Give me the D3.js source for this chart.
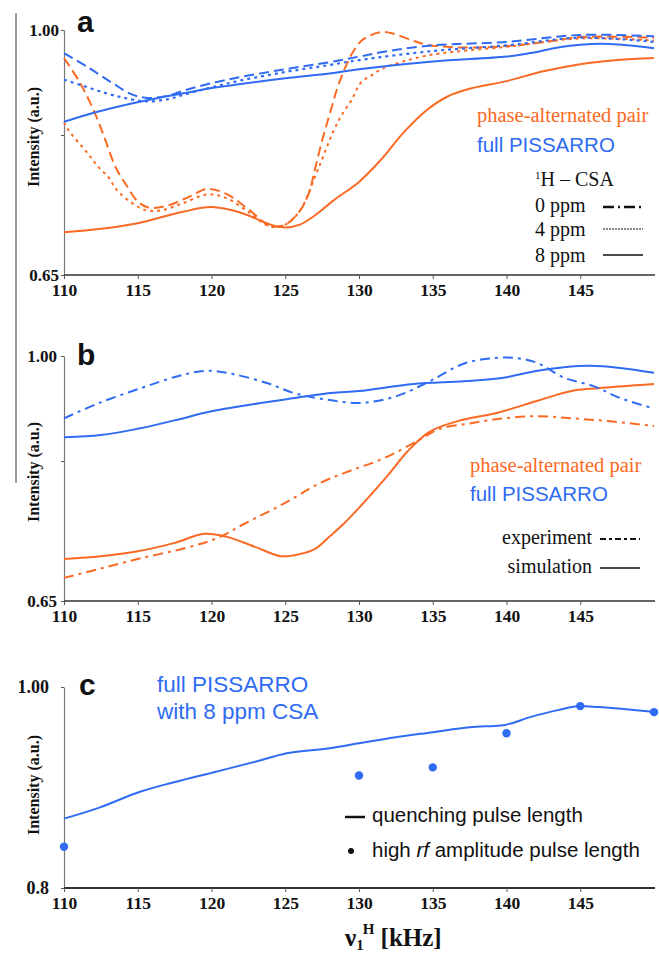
<!DOCTYPE html>
<html>
<head>
<meta charset="utf-8">
<script src="https://cdn.jsdelivr.net/npm/d3@7"></script>
<style>
  html, body { margin: 0; padding: 0; background: #fff; }
  svg { display: block; }
</style>
</head>
<body>
<svg id="fig" width="659" height="954"></svg>
<script>
// ---- shared axis values ----
const xTicks = [110, 115, 120, 125, 130, 135, 140, 145];
const xDomain = [110, 150];
const yTicksAB = [0.65, 0.85, 1.00];
const yLabelsAB = { 0.65: "0.65", 1.00: "1.00" };
const yTicksC = [0.8, 1.00];
const yLabelsC = { 0.8: "0.8", 1.00: "1.00" };

// ---- panel a: 1H CSA dependence ----
const aPissarro0 = [[110,0.967],[111.6,0.947],[113.3,0.924],[114.6,0.908],[115.7,0.903],[117,0.906],[118.2,0.914],[120,0.924],[122,0.933],[125,0.944],[128,0.954],[130,0.962],[132,0.970],[135,0.978],[140,0.983],[145,0.993],[150,0.991]];
const aPissarro4 = [[110,0.929],[111.2,0.921],[112.8,0.910],[114.1,0.903],[115.5,0.898],[117,0.901],[118.2,0.908],[120,0.918],[122,0.928],[125,0.940],[128,0.950],[130,0.957],[135,0.970],[140,0.978],[145,0.989],[150,0.983]];
const aPissarro8 = [[110,0.869],[112.8,0.886],[115.7,0.900],[118.2,0.910],[120,0.917],[125,0.931],[128,0.938],[130,0.944],[135,0.955],[140,0.962],[141.6,0.967],[143.5,0.975],[145,0.979],[147,0.980],[150,0.974]];
const aPair0 = [[110,0.960],[111.1,0.924],[112.1,0.881],[112.8,0.843],[113.5,0.804],[114.3,0.776],[115,0.755],[115.8,0.746],[117,0.749],[118.5,0.762],[119.7,0.773],[121,0.766],[122.5,0.744],[124,0.720],[125,0.722],[126,0.742],[126.6,0.767],[127,0.800],[127.6,0.850],[128.1,0.886],[128.5,0.915],[129,0.943],[129.6,0.969],[130.3,0.987],[131.5,0.997],[132.3,0.995],[133.5,0.986],[134.6,0.979],[137,0.975],[140,0.977],[143,0.984],[145,0.990],[150,0.989]];
const aPair4 = [[110,0.868],[110.3,0.857],[111.6,0.824],[112.3,0.805],[113,0.790],[113.6,0.771],[114.6,0.753],[115.5,0.743],[116.5,0.742],[118,0.752],[119.7,0.765],[121,0.760],[122.5,0.740],[124,0.719],[125,0.722],[126,0.742],[127.2,0.800],[128.3,0.857],[128.9,0.881],[129.5,0.900],[130.1,0.924],[130.9,0.936],[131.7,0.946],[133,0.955],[135,0.965],[140,0.976],[145,0.988],[150,0.985]];
const aPair8 = [[110,0.711],[112.5,0.716],[115,0.724],[118,0.740],[120,0.747],[122,0.739],[124,0.722],[125,0.718],[126,0.722],[127,0.735],[128.3,0.757],[130,0.783],[131.5,0.815],[133,0.853],[134.5,0.884],[136,0.905],[137.5,0.916],[140,0.927],[142.5,0.941],[145,0.951],[147.5,0.957],[150,0.960]];

// ---- panel b: experiment vs simulation ----
const bPissarroExp = [[110,0.911],[112.4,0.933],[115.2,0.954],[117.7,0.971],[119.7,0.979],[121.5,0.974],[123.8,0.961],[125.6,0.947],[127.4,0.939],[130.1,0.933],[132.6,0.943],[134.8,0.964],[137.1,0.989],[139.1,0.997],[140.7,0.997],[142.1,0.990],[143.9,0.969],[145.9,0.957],[147.7,0.940],[150,0.925]];
const bPissarroSim = [[110,0.884],[112.5,0.887],[115,0.896],[117.5,0.908],[120,0.921],[122.5,0.930],[125,0.938],[128.1,0.947],[130,0.950],[133.7,0.960],[137.1,0.964],[139.8,0.969],[142.1,0.979],[143.9,0.984],[145.7,0.986],[147.7,0.983],[150,0.976]];
const bPairExp = [[110,0.683],[112.4,0.696],[115.2,0.711],[118.3,0.726],[120.4,0.740],[122.2,0.760],[124.9,0.789],[127.4,0.819],[129.4,0.836],[131.7,0.854],[134,0.879],[135.5,0.896],[137.6,0.904],[139.8,0.911],[142.1,0.914],[144.4,0.911],[146.9,0.907],[150,0.900]];
const bPairSim = [[110,0.710],[112.5,0.714],[115,0.721],[117.5,0.733],[119.5,0.746],[121,0.742],[123,0.727],[124.7,0.714],[126,0.717],[127,0.724],[128,0.742],[129,0.761],[130,0.783],[131.9,0.828],[133.3,0.864],[134.8,0.892],[136.7,0.907],[139.4,0.919],[142.1,0.936],[144.4,0.950],[146.2,0.954],[150,0.960]];

// ---- panel c: quenching vs high-rf pulse length ----
const cQuenchX = [110,112.4,115.2,117.4,120.1,122.8,125.1,128,130,132.5,135,137.5,139.8,141.6,143.5,145,146.2,150];
const cQuenchY = [0.869,0.880,0.896,0.905,0.915,0.925,0.934,0.939,0.944,0.950,0.955,0.960,0.962,0.970,0.977,0.981,0.980,0.975];
const cHighRfX = [110,130,135,140,145,150];
const cHighRfY = [0.841,0.912,0.920,0.954,0.981,0.975];

// ---- styling ----
const ORANGE = "#fb6a24";
const BLUE = "#2f6bf3";
const SERIF = "'Liberation Serif', 'Times New Roman', serif";
const SANS = "'Liberation Sans', Arial, sans-serif";

const svg = d3.select("#fig");
const X0 = 64, X1 = 654;

// outer frame line on the left
svg.append("line")
  .attr("x1", 16).attr("x2", 16).attr("y1", 13).attr("y2", 483)
  .attr("stroke", "#333").attr("stroke-width", 1);

function makePanel(opts) {
  const x = d3.scaleLinear().domain(xDomain).range([X0, X1]);
  const y = d3.scaleLinear().domain(opts.yDomain).range([opts.yBottom, opts.yTop]);
  const g = svg.append("g");

  // y axis
  const ya = g.append("g").attr("transform", `translate(${X0},0)`)
    .call(d3.axisLeft(y).tickValues(opts.yTicks).tickSize(3).tickSizeOuter(0)
      .tickPadding(opts.yPad)
      .tickFormat(d => opts.yLabels[d] || ""));
  ya.select(".domain").attr("stroke", "#777").attr("stroke-width", 1.2);
  ya.selectAll(".tick line").attr("stroke", "#555");
  ya.selectAll(".tick text")
    .attr("font-family", SERIF).attr("font-weight", "bold")
    .attr("font-size", opts.yFont).attr("fill", "#111");

  // x axis
  const xa = g.append("g").attr("transform", `translate(0,${opts.yBottom})`)
    .call(d3.axisBottom(x).tickValues(xTicks).tickSize(4).tickSizeOuter(0).tickPadding(5)
      .tickFormat(d3.format("d")));
  xa.select(".domain").attr("stroke", "#333").attr("stroke-width", opts.xStroke)
    .attr("d", `M${X0},0H${X1 + 1}`);
  xa.selectAll(".tick line").attr("stroke", "#555");
  xa.selectAll(".tick text")
    .attr("font-family", SERIF).attr("font-weight", "bold")
    .attr("font-size", 17.5).attr("fill", "#111");

  // y title
  g.append("text")
    .attr("transform", `translate(${opts.titleX},${opts.titleY}) rotate(-90)`)
    .attr("text-anchor", "middle").attr("dominant-baseline", "middle")
    .attr("font-family", SERIF).attr("font-weight", "bold").attr("font-size", 16)
    .attr("fill", "#111").text("Intensity (a.u.)");

  // panel letter
  g.append("text").attr("x", opts.letterX).attr("y", opts.letterY)
    .attr("font-family", SANS).attr("font-weight", "bold").attr("font-size", 30)
    .attr("fill", "#111").text(opts.letter);

  return { g, x, y };
}

function drawCurve(p, pts, color, width, dash, curve) {
  const line = d3.line()
    .x(d => p.x(d[0])).y(d => p.y(d[1]))
    .curve(curve || d3.curveCatmullRom.alpha(0.5));
  p.g.append("path").datum(pts)
    .attr("d", line).attr("fill", "none")
    .attr("stroke", color).attr("stroke-width", width)
    .attr("stroke-dasharray", dash || null)
    .attr("stroke-linecap", "butt");
}

function legendText(p, x, y, text, color, family, size, anchor) {
  return p.g.append("text").attr("x", x).attr("y", y)
    .attr("font-family", family).attr("font-size", size)
    .attr("fill", color).attr("text-anchor", anchor || "start").text(text);
}

function legendLine(p, x1, x2, y, width, dash) {
  p.g.append("line").attr("x1", x1).attr("x2", x2).attr("y1", y).attr("y2", y)
    .attr("stroke", "#111").attr("stroke-width", width)
    .attr("stroke-dasharray", dash || null);
}

// ================= panel a =================
const pa = makePanel({
  yDomain: [0.65, 1.00], yTop: 30, yBottom: 275, yTicks: yTicksAB, yLabels: yLabelsAB,
  yPad: 2, yFont: 17, xStroke: 1.3, titleX: 35, titleY: 137,
  letter: "a", letterX: 77, letterY: 32
});
const DASH = "10,5";
const DOT = "3,4";
drawCurve(pa, aPair8, ORANGE, 2);
drawCurve(pa, aPair4, ORANGE, 2, DOT);
drawCurve(pa, aPair0, ORANGE, 2, DASH);
drawCurve(pa, aPissarro8, BLUE, 2);
drawCurve(pa, aPissarro4, BLUE, 2.2, DOT);
drawCurve(pa, aPissarro0, BLUE, 2, DASH);

legendText(pa, 477, 122, "phase-alternated pair", ORANGE, SERIF, 20.5);
legendText(pa, 477, 152, "full PISSARRO", BLUE, SANS, 20.5);
const csa = legendText(pa, 535, 186, "", "#111", SERIF, 20);
csa.append("tspan").attr("font-size", 11).attr("dy", -7).text("1");
csa.append("tspan").attr("dy", 7).text("H \u2013 CSA");
legendText(pa, 535, 212, "0 ppm", "#111", SERIF, 20);
legendText(pa, 535, 236, "4 ppm", "#111", SERIF, 20);
legendText(pa, 535, 262, "8 ppm", "#111", SERIF, 20);
legendLine(pa, 603, 645, 207, 2.5, "11,4,2,4");
legendLine(pa, 603, 643, 229, 1, "2,1");
legendLine(pa, 603, 643, 255, 1.5);

// ================= panel b =================
const pb = makePanel({
  yDomain: [0.65, 1.00], yTop: 356, yBottom: 601, yTicks: yTicksAB, yLabels: yLabelsAB,
  yPad: 4, yFont: 17, xStroke: 1.3, titleX: 35, titleY: 472,
  letter: "b", letterX: 77, letterY: 365
});
const DASHDOT = "10,5,3,5";
drawCurve(pb, bPairSim, ORANGE, 2);
drawCurve(pb, bPairExp, ORANGE, 2, DASHDOT);
drawCurve(pb, bPissarroSim, BLUE, 2);
drawCurve(pb, bPissarroExp, BLUE, 2, DASHDOT);

legendText(pb, 470, 472, "phase-alternated pair", ORANGE, SERIF, 20.5);
legendText(pb, 470, 501, "full PISSARRO", BLUE, SANS, 20.5);
legendText(pb, 592, 544, "experiment", "#111", SERIF, 20, "end");
legendText(pb, 592, 573, "simulation", "#111", SERIF, 20, "end");
legendLine(pb, 600, 640, 539, 2, "6,3,3,3");
legendLine(pb, 600, 640, 568, 1.5);

// ================= panel c =================
const pc = makePanel({
  yDomain: [0.8, 1.00], yTop: 687, yBottom: 888, yTicks: yTicksC, yLabels: yLabelsC,
  yPad: 12, yFont: 18, xStroke: 2.2, titleX: 35, titleY: 785,
  letter: "c", letterX: 79, letterY: 695
});
const cQuench = cQuenchX.map((v, i) => [v, cQuenchY[i]]);
drawCurve(pc, cQuench, BLUE, 2, null, d3.curveMonotoneX);
pc.g.selectAll("circle.hr").data(cHighRfX.map((v, i) => [v, cHighRfY[i]]))
  .join("circle").attr("class", "hr")
  .attr("cx", d => pc.x(d[0])).attr("cy", d => pc.y(d[1]))
  .attr("r", 4.2).attr("fill", BLUE);

legendText(pc, 157, 692, "full PISSARRO", BLUE, SANS, 22.5);
legendText(pc, 157, 719, "with 8 ppm CSA", BLUE, SANS, 22.5);
legendLine(pc, 345, 365, 817, 2.5);
legendText(pc, 372, 822, "quenching pulse length", "#111", SANS, 20.5);
pc.g.append("circle").attr("cx", 351).attr("cy", 851).attr("r", 3).attr("fill", "#111");
const hr = legendText(pc, 372, 857, "high ", "#111", SANS, 20.5);
hr.append("tspan").attr("font-style", "italic").text("rf");
hr.append("tspan").text(" amplitude pulse length");

// x axis title for the bottom panel
const xt = pc.g.append("text").attr("x", 345).attr("y", 946)
  .attr("font-family", SERIF).attr("font-weight", "bold").attr("font-size", 25)
  .attr("fill", "#111");
xt.append("tspan").text("\u03bd");
xt.append("tspan").attr("font-size", 15).attr("dy", 4).text("1");
xt.append("tspan").attr("font-size", 15).attr("dy", -16).attr("dx", -1).text("H");
xt.append("tspan").attr("dy", 12).text(" [kHz]");
</script>
</body>
</html>
